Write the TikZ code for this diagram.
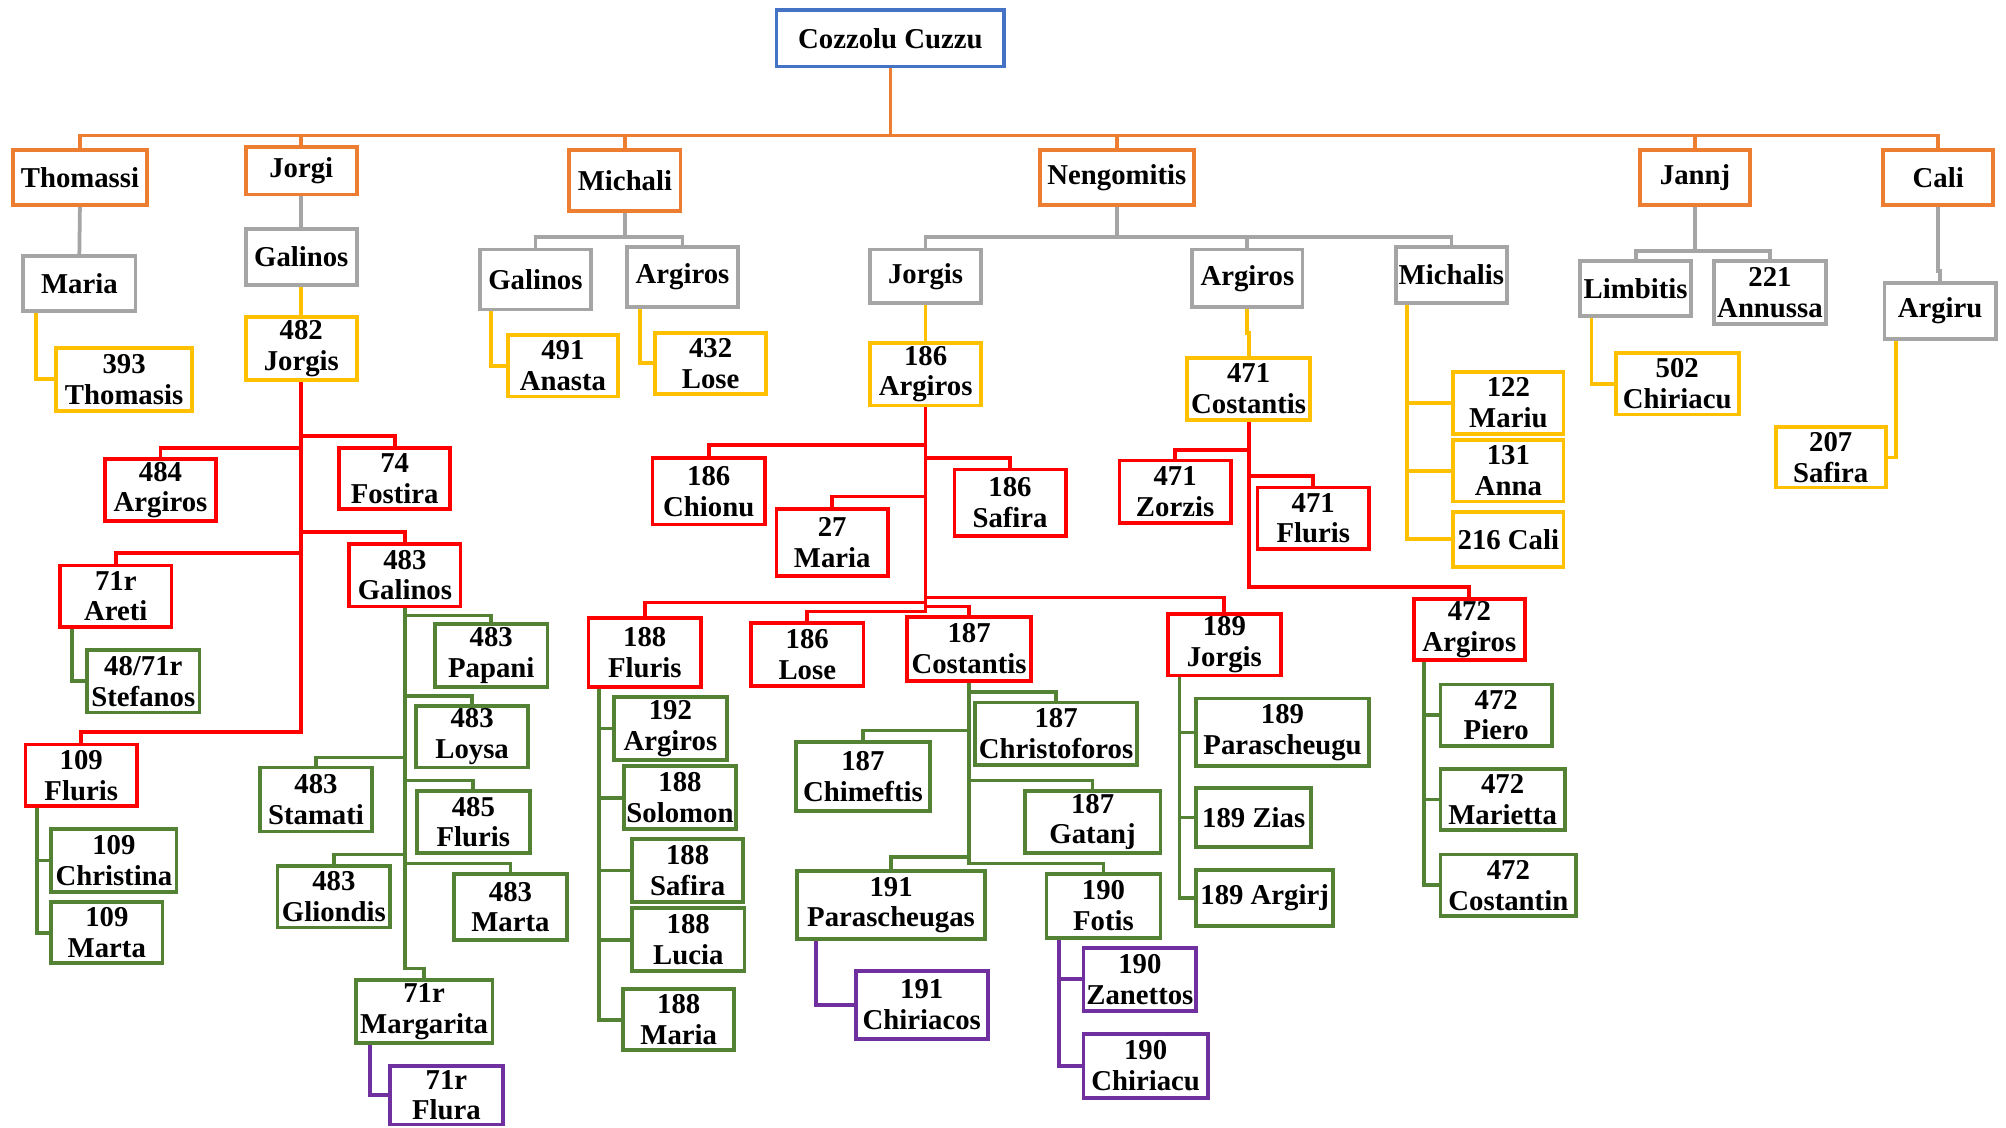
\documentclass[tikz,border=0pt]{standalone}
\usepackage{fontspec}
\setmainfont{Liberation Serif}
\definecolor{cblue}{HTML}{4472C4}
\definecolor{corange}{HTML}{ED7D31}
\definecolor{cgray}{HTML}{A5A5A5}
\definecolor{cyellow}{HTML}{FFC000}
\definecolor{cred}{HTML}{FF0000}
\definecolor{cgreen}{HTML}{548235}
\definecolor{cpurple}{HTML}{7030A0}
\pgfdeclarelayer{bg}
\pgfsetlayers{bg,main}
\tikzset{
  base/.style={draw, line width=1.5pt, inner sep=0pt, outer sep=0pt, align=center, fill=white,
    font=\bfseries\fontsize{11.5}{12.3}\selectfont},
  bbox/.style={base, draw=cblue},
  obox/.style={base, draw=corange},
  gbox/.style={base, draw=cgray},
  ybox/.style={base, draw=cyellow},
  rbox/.style={base, draw=cred},
  grbox/.style={base, draw=cgreen},
  pbox/.style={base, draw=cpurple},
  ln/.style={line width=1.5pt},
  oline/.style={ln, draw=corange},
  gline/.style={ln, draw=cgray},
  yline/.style={ln, draw=cyellow},
  rline/.style={ln, draw=cred},
  grline/.style={ln, draw=cgreen},
  pline/.style={ln, draw=cpurple},
}
\newcommand{\mybox}[7]{\node[#2, minimum width={(#5-#3)*0.5117pt}, minimum height={(#6-#4)*0.5117pt}] (#1) at ({(#3+#5)/2},{(#4+#6)/2}) {#7};}
\begin{document}
\begin{tikzpicture}[x=0.5117pt, y=-0.5117pt]
\useasboundingbox (0,0) rectangle (1568,881);
% level 0
\mybox{cz}{bbox}{607}{8}{785}{52}{Cozzolu Cuzzu}
% level 1
\mybox{thom}{obox}{10}{117}{115}{160}{Thomassi}
\mybox{jorgi}{obox}{192}{115}{279}{152}{Jorgi}
\mybox{mich}{obox}{445}{117}{532}{165}{Michali}
\mybox{neng}{obox}{813}{117}{933}{160}{Nengomitis}
\mybox{jannj}{obox}{1282}{117}{1368}{160}{Jannj}
\mybox{cali}{obox}{1472}{117}{1558}{160}{Cali}
% level 2
\mybox{maria}{gbox}{18}{200}{106}{243}{Maria}
\mybox{galA}{gbox}{192}{179}{279}{223}{Galinos}
\mybox{galB}{gbox}{375}{195}{462}{242}{Galinos}
\mybox{argA}{gbox}{490}{193}{577}{240}{Argiros}
\mybox{jorgisN}{gbox}{680}{195}{767}{237}{Jorgis}
\mybox{argN}{gbox}{932}{195}{1018}{240}{Argiros}
\mybox{michN}{gbox}{1091}{193}{1178}{237}{Michalis}
\mybox{limb}{gbox}{1235}{204}{1322}{247}{Limbitis}
\mybox{ann}{gbox}{1340}{204}{1427}{253}{221\\Annussa}
\mybox{argiru}{gbox}{1473}{221}{1560}{265}{Argiru}
% level 3
\mybox{t393}{ybox}{44}{272}{150}{321}{393\\Thomasis}
\mybox{j482}{ybox}{192}{248}{279}{297}{482\\Jorgis}
\mybox{a491}{ybox}{397}{262}{483}{310}{491\\Anasta}
\mybox{l432}{ybox}{512}{260}{599}{308}{432\\Lose}
\mybox{a186}{ybox}{680}{268}{767}{317}{186\\Argiros}
\mybox{c471}{ybox}{928}{280}{1024}{328}{471\\Costantis}
\mybox{m122}{ybox}{1136}{291}{1222}{339}{122\\Mariu}
\mybox{a131}{ybox}{1136}{344}{1222}{392}{131\\Anna}
\mybox{c216}{ybox}{1136}{400}{1222}{443}{216 Cali}
\mybox{c502}{ybox}{1263}{276}{1359}{324}{502\\Chiriacu}
\mybox{s207}{ybox}{1388}{334}{1474}{381}{207\\Safira}
% level 4
\mybox{a484}{rbox}{82}{359}{169}{407}{484\\Argiros}
\mybox{f74}{rbox}{265}{350}{352}{398}{74\\Fostira}
\mybox{a71}{rbox}{47}{442}{134}{490}{71r\\Areti}
\mybox{g483}{rbox}{273}{425}{360}{474}{483\\Galinos}
\mybox{f109}{rbox}{20}{582}{107}{630}{109\\Fluris}
\mybox{c186}{rbox}{510}{358}{598}{410}{186\\Chionu}
\mybox{s186}{rbox}{746}{367}{833}{419}{186\\Safira}
\mybox{m27}{rbox}{607}{398}{694}{450}{27\\Maria}
\mybox{f188}{rbox}{460}{483}{548}{537}{188\\Fluris}
\mybox{l186}{rbox}{587}{487}{675}{536}{186\\Lose}
\mybox{c187}{rbox}{709}{482}{806}{532}{187\\Costantis}
\mybox{j189}{rbox}{913}{480}{1001}{528}{189\\Jorgis}
\mybox{z471}{rbox}{875}{360}{962}{409}{471\\Zorzis}
\mybox{f471}{rbox}{983}{381}{1070}{429}{471\\Fluris}
\mybox{a472}{rbox}{1105}{468}{1192}{516}{472\\Argiros}
% level 5
\mybox{s48}{grbox}{68}{508}{156}{557}{48/71r\\Stefanos}
\mybox{c109}{grbox}{40}{648}{138}{697}{109\\Christina}
\mybox{m109}{grbox}{40}{705}{127}{753}{109\\Marta}
\mybox{p483}{grbox}{340}{488}{428}{537}{483\\Papani}
\mybox{l483}{grbox}{325}{552}{413}{600}{483\\Loysa}
\mybox{st483}{grbox}{203}{600}{291}{650}{483\\Stamati}
\mybox{f485}{grbox}{326}{618}{414}{667}{485\\Fluris}
\mybox{gl483}{grbox}{217}{677}{305}{725}{483\\Gliondis}
\mybox{m483}{grbox}{355}{683}{443}{735}{483\\Marta}
\mybox{mg71}{grbox}{278}{766}{385}{815}{71r\\Margarita}
\mybox{a192}{grbox}{480}{545}{568}{594}{192\\Argiros}
\mybox{s188}{grbox}{488}{599}{575}{648}{188\\Solomon}
\mybox{sf188}{grbox}{494}{656}{581}{705}{188\\Safira}
\mybox{lu188}{grbox}{494}{710}{582}{759}{188\\Lucia}
\mybox{ma188}{grbox}{487}{773}{574}{821}{188\\Maria}
\mybox{ch187}{grbox}{762}{549}{889}{598}{187\\Christoforos}
\mybox{cm187}{grbox}{622}{580}{727}{634}{187\\Chimeftis}
\mybox{g187}{grbox}{801}{618}{907}{667}{187\\Gatanj}
\mybox{p191}{grbox}{623}{681}{770}{734}{191\\Parascheugas}
\mybox{f190}{grbox}{818}{683}{907}{733}{190\\Fotis}
\mybox{p189}{grbox}{935}{546}{1070}{599}{189\\Parascheugu}
\mybox{z189}{grbox}{935}{616}{1025}{662}{189 Zias}
\mybox{ar189}{grbox}{935}{680}{1042}{724}{189 Argirj}
\mybox{p472}{grbox}{1126}{535}{1213}{583}{472\\Piero}
\mybox{m472}{grbox}{1126}{601}{1223}{649}{472\\Marietta}
\mybox{c472}{grbox}{1126}{668}{1232}{716}{472\\Costantin}
% level 6
\mybox{fl71}{pbox}{305}{833}{393}{879}{71r\\Flura}
\mybox{ch191}{pbox}{669}{759}{772}{812}{191\\Chiriacos}
\mybox{z190}{pbox}{847}{741}{935}{790}{190\\Zanettos}
\mybox{ch190}{pbox}{847}{808}{944}{858}{190\\Chiriacu}

\begin{pgfonlayer}{bg}
% orange
\foreach \c in {thom,jorgi,mich,neng,jannj,cali}
  \draw[oline] (cz.south) -- (cz.south |- 0,106) -| (\c.north);
% gray
\draw[gline] (thom.south) -- (maria.north);
\draw[gline] (jorgi.south) -- (galA.north);
\foreach \c in {galB,argA}
  \draw[gline] (mich.south) -- (mich.south |- 0,185) -| (\c.north);
\foreach \c in {jorgisN,argN,michN}
  \draw[gline] (neng.south) -- (neng.south |- 0,185) -| (\c.north);
\foreach \c in {limb,ann}
  \draw[gline] (jannj.south) -- (jannj.south |- 0,196) -| (\c.north);
\draw[gline] (cali.south) -- (cali.south |- 0,212) -| (argiru.north);
% yellow
\draw[yline] (maria.south -| 28,0) |- (t393.west);
\draw[yline] (galA.south) -- (j482.north);
\draw[yline] (galB.south -| 384,0) |- (a491.west);
\draw[yline] (argA.south -| 500,0) |- (l432.west);
\draw[yline] (jorgisN.south) -- (a186.north);
\draw[yline] (argN.south) -- (argN.south |- 0,260) -| (c471.north);
\foreach \c in {m122,a131,c216}
  \draw[yline] (michN.south -| 1100,0) |- (\c.west);
\draw[yline] (limb.south -| 1244,0) |- (c502.west);
\draw[yline] (argiru.south -| 1482,0) |- (s207.east);
% red
\foreach \c/\y in {a484/350,f74/341,a71/432,g483/416,f109/572}
  \draw[rline] (j482.south) -- (j482.south |- 0,\y) -| (\c.north);
\foreach \c/\y in {c186/348,s186/358,m27/388,f188/471,l186/478,c187/474,j189/467}
  \draw[rline] (a186.south) -- (a186.south |- 0,\y) -| (\c.north);
\foreach \c/\y in {z471/352,f471/372,a472/459}
  \draw[rline] (c471.south) -- (c471.south |- 0,\y) -| (\c.north);
% green
\draw[grline] (a71.south -| 56,0) |- (s48.west);
\foreach \c in {c109,m109}
  \draw[grline] (f109.south -| 29,0) |- (\c.west);
\foreach \c/\y in {p483/481,l483/544,st483/592,f485/610,gl483/668,m483/675,mg71/757}
  \draw[grline] (g483.south) -- (g483.south |- 0,\y) -| (\c.north);
\foreach \c in {a192,s188,sf188,lu188,ma188}
  \draw[grline] (f188.south -| 468,0) |- (\c.west);
\foreach \c/\y in {ch187/541,cm187/571,g187/610,p191/670,f190/675}
  \draw[grline] (c187.south) -- (c187.south |- 0,\y) -| (\c.north);
\foreach \c in {p189,z189,ar189}
  \draw[grline] (j189.south -| 922,0) |- (\c.west);
\foreach \c in {p472,m472,c472}
  \draw[grline] (a472.south -| 1113,0) |- (\c.west);
% purple
\draw[pline] (mg71.south -| 289,0) |- (fl71.west);
\draw[pline] (p191.south -| 638,0) |- (ch191.west);
\foreach \c in {z190,ch190}
  \draw[pline] (f190.south -| 828,0) |- (\c.west);
\end{pgfonlayer}
\end{tikzpicture}
\end{document}
